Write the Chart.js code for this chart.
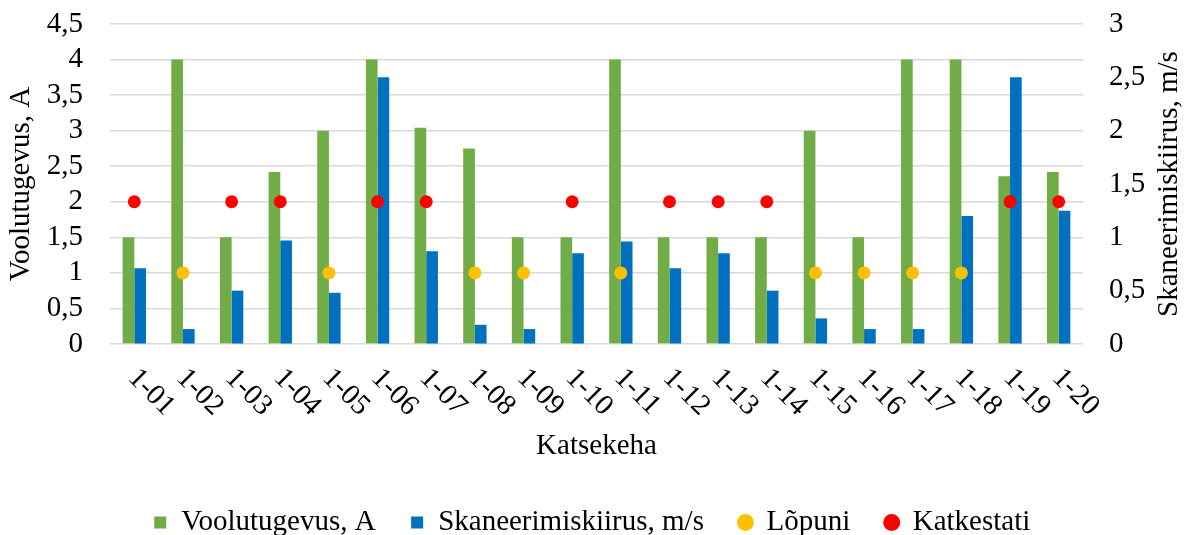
<!DOCTYPE html>
<html>
<head>
<meta charset="utf-8">
<script src="https://cdn.jsdelivr.net/npm/chart.js@4/dist/chart.umd.min.js"></script>
<style>
  html, body { margin: 0; padding: 0; background: #fff; }
  #wrap { width: 1184px; height: 535px; position: relative; }
</style>
</head>
<body>
<div id="wrap"><canvas id="c"></canvas></div>
<script>
const categories = ['1-01','1-02','1-03','1-04','1-05','1-06','1-07','1-08','1-09','1-10',
                    '1-11','1-12','1-13','1-14','1-15','1-16','1-17','1-18','1-19','1-20'];
const voolutugevus = [1.5, 4, 1.5, 2.42, 3, 4, 3.04, 2.75, 1.5, 1.5, 4, 1.5, 1.5, 1.5, 3, 1.5, 4, 4, 2.36, 2.42];
const skaneerimiskiirus = [0.71, 0.14, 0.5, 0.97, 0.48, 2.5, 0.87, 0.18, 0.14, 0.85, 0.96, 0.71, 0.85, 0.5, 0.24, 0.14, 0.14, 1.2, 2.5, 1.25];
const lopuni = [null, 1, null, null, 1, null, null, 1, 1, null, 1, null, null, null, 1, 1, 1, 1, null, null];
const katkestati = [2, null, 2, 2, null, 2, 2, null, null, 2, null, 2, 2, 2, null, null, null, null, 2, 2];
const leftTickLabels = ['0', '0,5', '1', '1,5', '2', '2,5', '3', '3,5', '4', '4,5'];
const rightTickLabels = ['0', '0,5', '1', '1,5', '2', '2,5', '3'];

const FONT = 'Liberation Serif';
const FS = 29;

const xLabelsPlugin = {
  id: 'xLabels',
  afterDraw(chart) {
    const xs = chart.scales.x;
    const ctx = chart.ctx;
    ctx.save();
    ctx.font = FS + 'px "' + FONT + '"';
    ctx.fillStyle = '#000';
    ctx.textAlign = 'left';
    ctx.textBaseline = 'middle';
    categories.forEach((lab, i) => {
      const x = xs.getPixelForValue(i) - 2;
      const y = chart.chartArea.bottom + 29.5;
      ctx.save();
      ctx.translate(x, y);
      ctx.rotate(Math.PI / 4);
      ctx.fillText(lab, 0, 0);
      ctx.restore();
    });
    // right axis title (reads bottom to top)
    const ca = chart.chartArea;
    ctx.save();
    ctx.translate(1169, (ca.top + ca.bottom) / 2);
    ctx.rotate(-Math.PI / 2);
    ctx.textAlign = 'center';
    ctx.fillText('Skaneerimiskiirus, m/s', 0, 0);
    ctx.restore();
    ctx.restore();
  }
};

new Chart(document.getElementById('c'), {
  data: {
    labels: categories,
    datasets: [
      { type: 'bar', label: 'Voolutugevus, A', data: voolutugevus, yAxisID: 'y',
        backgroundColor: '#70AD47', borderWidth: 0, pointStyle: 'rect', order: 2,
        categoryPercentage: 0.48, barPercentage: 1 },
      { type: 'bar', label: 'Skaneerimiskiirus, m/s', data: skaneerimiskiirus, yAxisID: 'y1',
        backgroundColor: '#0070C0', borderWidth: 0, pointStyle: 'rect', order: 2,
        categoryPercentage: 0.48, barPercentage: 1 },
      { type: 'line', label: 'Lõpuni', data: lopuni, yAxisID: 'y', showLine: false,
        pointRadius: 6.5, pointBackgroundColor: '#FFC000', backgroundColor: '#FFC000',
        borderColor: '#FFC000', pointBorderWidth: 0, borderWidth: 0, pointStyle: 'circle', order: 0 },
      { type: 'line', label: 'Katkestati', data: katkestati, yAxisID: 'y', showLine: false,
        pointRadius: 6.5, pointBackgroundColor: '#FF0000', backgroundColor: '#FF0000',
        borderColor: '#FF0000', pointBorderWidth: 0, borderWidth: 0, pointStyle: 'circle', order: 0 }
    ]
  },
  options: {
    responsive: true,
    maintainAspectRatio: false,
    animation: false,
    layout: { padding: { top: 24, bottom: -12, left: 0, right: 0 } },
    plugins: {
      tooltip: { enabled: false },
      legend: {
        position: 'bottom',
        labels: {
          usePointStyle: true,
          boxWidth: 13,
          boxHeight: 12,
          padding: 35,
          color: '#000',
          font: { family: FONT, size: FS },
          sort: (a, b) => a.datasetIndex - b.datasetIndex
        }
      }
    },
    scales: {
      x: {
        grid: { display: false },
        border: { display: false },
        ticks: { display: false },
        title: { display: true, text: 'Katsekeha', color: '#000',
                 font: { family: FONT, size: FS }, padding: { top: 0, bottom: 9 } },
        afterFit(s) { s.height = 129; }
      },
      y: {
        position: 'left',
        min: 0, max: 4.5,
        ticks: { stepSize: 0.5, autoSkip: false, padding: 27, color: '#000', font: { family: FONT, size: FS },
                 callback: (v, i) => leftTickLabels[i] },
        grid: { color: '#D9D9D9', lineWidth: 1.5, drawTicks: false },
        border: { display: false },
        title: { display: true, text: 'Voolutugevus, A', color: '#000',
                 font: { family: FONT, size: FS }, padding: { top: 4, bottom: 0 } },
        afterFit(s) { s.width = 110; s.paddingTop = 0; s.paddingBottom = 0; }
      },
      y1: {
        position: 'right',
        min: 0, max: 3,
        ticks: { stepSize: 0.5, autoSkip: false, padding: 26, color: '#000', font: { family: FONT, size: FS },
                 callback: (v, i) => rightTickLabels[i] },
        grid: { drawOnChartArea: false, drawTicks: false },
        border: { display: false },
        afterFit(s) { s.width = 101; s.paddingTop = 0; s.paddingBottom = 0; }
      }
    }
  },
  plugins: [xLabelsPlugin]
});
</script>
</body>
</html>
